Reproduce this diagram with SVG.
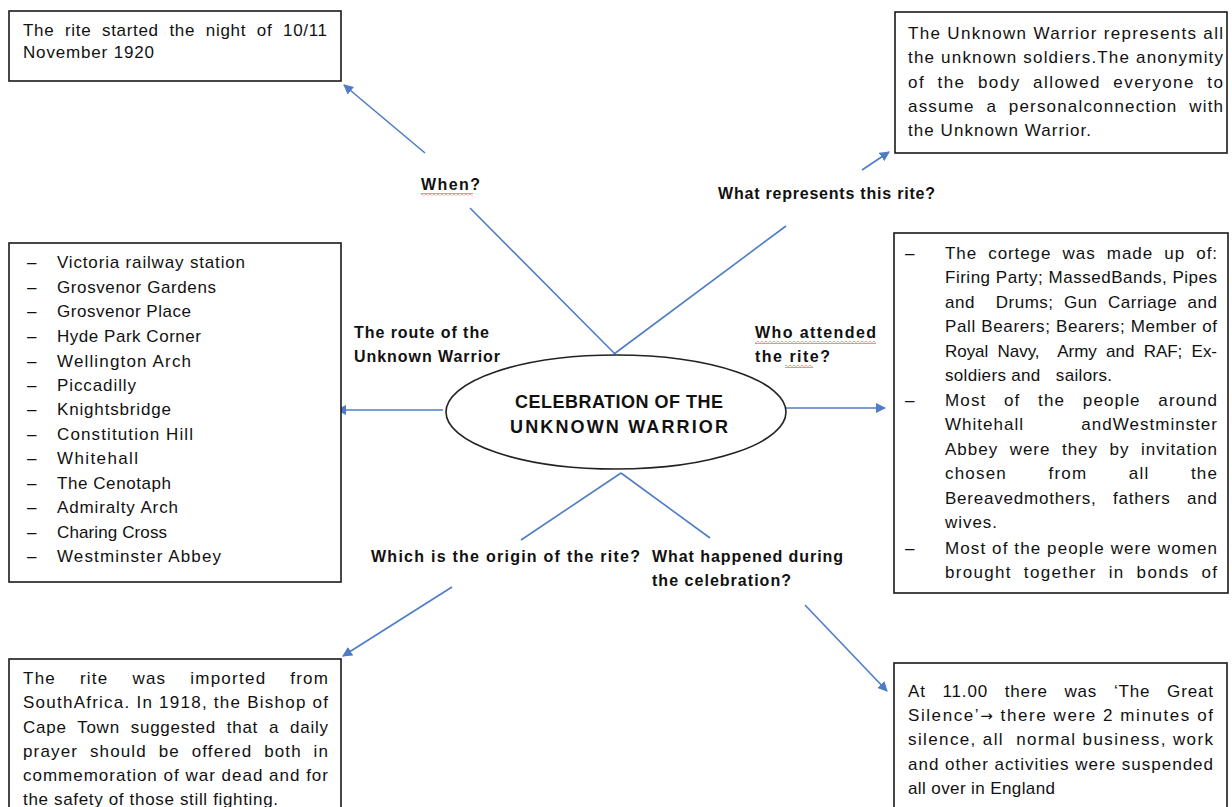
<svg xmlns="http://www.w3.org/2000/svg" width="1232" height="807" viewBox="0 0 1232 807">
<style>
.box{fill:#fff;stroke:#1a1a1a;stroke-width:1.6}
.t{font-family:"Liberation Sans",Arial,sans-serif;font-size:17px;fill:#111}
.b{font-family:"Liberation Sans",Arial,sans-serif;font-size:16px;font-weight:bold;fill:#111}
.c{font-family:"Liberation Sans",Arial,sans-serif;font-size:18px;font-weight:bold;fill:#111}
.con{stroke:#4f7cc6;stroke-width:1.6;fill:none}
.arr{font-family:"DejaVu Sans",sans-serif;font-size:15px}
</style>
<defs>
<marker id="ah" viewBox="0 0 10 10" refX="9" refY="5" markerWidth="10" markerHeight="10" markerUnits="userSpaceOnUse" orient="auto">
<path d="M0,0 L10,5 L0,10 z" fill="#4f7cc6"/>
</marker>
<pattern id="sq" x="0" y="0" width="4" height="3" patternUnits="userSpaceOnUse">
<path d="M0,0.5 L2,2.5 L4,0.5" stroke="#e02020" stroke-width="1" fill="none"/>
</pattern>
</defs>
<rect width="1232" height="807" fill="#fff"/>

<g id="connectors">
<line class="con" x1="470" y1="208" x2="615" y2="354"/>
<line class="con" x1="614" y1="354" x2="786" y2="226"/>
<line class="con" x1="621" y1="473" x2="521" y2="540"/>
<line class="con" x1="621" y1="473" x2="710" y2="538"/>
<line class="con" x1="425" y1="153" x2="344" y2="85" marker-end="url(#ah)"/>
<line class="con" x1="862" y1="170" x2="889" y2="152" marker-end="url(#ah)"/>
<line class="con" x1="443" y1="410" x2="337" y2="410" marker-end="url(#ah)"/>
<line class="con" x1="786" y1="408" x2="885" y2="408" marker-end="url(#ah)"/>
<line class="con" x1="452" y1="587" x2="343" y2="656" marker-end="url(#ah)"/>
<line class="con" x1="805" y1="605" x2="887" y2="691" marker-end="url(#ah)"/>
</g>

<g id="center">
<ellipse cx="616" cy="412" rx="170" ry="57" fill="#fff" stroke="#222" stroke-width="1.6"/>
<text class="c" x="515" y="408" textLength="208">CELEBRATION OF THE</text>
<text class="c" x="510" y="433" textLength="218">UNKNOWN WARRIOR</text>
</g>

<g id="labels">
<text class="b" x="421" y="190" textLength="59">When?</text>
<rect x="421" y="193" width="52" height="3" fill="url(#sq)"/>
<text class="b" x="718" y="199" textLength="217">What represents this rite?</text>
<text class="b" x="354" y="338" textLength="135">The route of the</text>
<text class="b" x="354" y="362" textLength="146">Unknown Warrior</text>
<text class="b" x="755" y="338" textLength="121">Who attended</text>
<rect x="755" y="341" width="121" height="3" fill="url(#sq)"/>
<text class="b" x="755" y="362" textLength="75">the rite?</text>
<rect x="785" y="365" width="28" height="3" fill="url(#sq)"/>
<text class="b" x="371" y="562" textLength="269">Which is the origin of the rite?</text>
<text class="b" x="652" y="562" textLength="191">What happened during</text>
<text class="b" x="652" y="586" textLength="139">the celebration?</text>
</g>

<g id="box-when">
<rect class="box" x="9" y="11" width="332" height="70"/>
<text class="t" x="23" y="36" textLength="304" xml:space="preserve">The  rite  started  the  night  of  10/11</text>
<text class="t" x="23" y="58" textLength="131">November 1920</text>
</g>

<g id="box-represents">
<rect class="box" x="895" y="12" width="332" height="141"/>
<text class="t" x="908" y="39" textLength="315">The Unknown Warrior represents all</text>
<text class="t" x="908" y="63" textLength="315">the unknown soldiers.The anonymity</text>
<text class="t" x="908" y="88" textLength="315" xml:space="preserve">of  the  body  allowed  everyone  to</text>
<text class="t" x="908" y="112" textLength="315" xml:space="preserve">assume  a  personalconnection  with</text>
<text class="t" x="908" y="136" textLength="183">the Unknown Warrior.</text>
</g>

<g id="box-route">
<rect class="box" x="9" y="243" width="332" height="339"/>
<g class="t">
<text x="27" y="268">–</text><text x="57" y="268" textLength="188">Victoria railway station</text>
<text x="27" y="293">–</text><text x="57" y="293" textLength="159">Grosvenor Gardens</text>
<text x="27" y="317">–</text><text x="57" y="317" textLength="134">Grosvenor Place</text>
<text x="27" y="342">–</text><text x="57" y="342" textLength="144">Hyde Park Corner</text>
<text x="27" y="367">–</text><text x="57" y="367" textLength="134">Wellington Arch</text>
<text x="27" y="391">–</text><text x="57" y="391" textLength="79">Piccadilly</text>
<text x="27" y="415">–</text><text x="57" y="415" textLength="114">Knightsbridge</text>
<text x="27" y="440">–</text><text x="57" y="440" textLength="136">Constitution Hill</text>
<text x="27" y="464">–</text><text x="57" y="464" textLength="81">Whitehall</text>
<text x="27" y="489">–</text><text x="57" y="489" textLength="114">The Cenotaph</text>
<text x="27" y="513">–</text><text x="57" y="513" textLength="121">Admiralty Arch</text>
<text x="27" y="538">–</text><text x="57" y="538" textLength="110">Charing Cross</text>
<text x="27" y="562">–</text><text x="57" y="562" textLength="164">Westminster Abbey</text>
</g>
</g>

<g id="box-attended">
<rect class="box" x="894" y="233" width="334" height="360"/>
<g class="t">
<text x="905" y="259">–</text>
<text x="945" y="259" textLength="272" xml:space="preserve">The  cortege  was  made  up  of:</text>
<text x="945" y="283" textLength="272">Firing Party; MassedBands, Pipes</text>
<text x="945" y="308" textLength="272" xml:space="preserve">and    Drums;  Gun  Carriage  and</text>
<text x="945" y="332" textLength="272">Pall Bearers; Bearers; Member of</text>
<text x="945" y="357" textLength="272" xml:space="preserve">Royal  Navy,    Army  and  RAF;  Ex-</text>
<text x="945" y="381" textLength="167" xml:space="preserve">soldiers and   sailors.</text>
<text x="905" y="406">–</text>
<text x="945" y="406" textLength="272" xml:space="preserve">Most   of   the   people   around</text>
<text x="945" y="430" textLength="272" xml:space="preserve">Whitehall          andWestminster</text>
<text x="945" y="455" textLength="272" xml:space="preserve">Abbey  were  they  by  invitation</text>
<text x="945" y="479" textLength="272" xml:space="preserve">chosen       from       all       the</text>
<text x="945" y="504" textLength="272" xml:space="preserve">Bereavedmothers,   fathers   and</text>
<text x="945" y="528" textLength="52">wives.</text>
<text x="905" y="554">–</text>
<text x="945" y="554" textLength="272">Most of the people were women</text>
<text x="945" y="578" textLength="272" xml:space="preserve">brought  together  in  bonds  of</text>
</g>
</g>

<g id="box-origin">
<rect class="box" x="9" y="659" width="332" height="160"/>
<g class="t">
<text x="23" y="684" textLength="305" xml:space="preserve">The    rite    was    imported    from</text>
<text x="23" y="708" textLength="305">SouthAfrica. In 1918, the Bishop of</text>
<text x="23" y="733" textLength="305" xml:space="preserve">Cape  Town  suggested  that  a  daily</text>
<text x="23" y="757" textLength="305" xml:space="preserve">prayer  should  be  offered  both  in</text>
<text x="23" y="781" textLength="305">commemoration of war dead and for</text>
<text x="23" y="805" textLength="255">the safety of those still fighting.</text>
</g>
</g>

<g id="box-happened">
<rect class="box" x="894" y="663" width="333" height="160"/>
<g class="t">
<text x="908" y="697" textLength="305" xml:space="preserve">At   11.00   there   was   ‘The   Great</text>
<text x="908" y="721" textLength="305">Silence’<tspan class="arr">→</tspan> there were 2 minutes of</text>
<text x="908" y="745" textLength="305" xml:space="preserve">silence, all  normal business, work</text>
<text x="908" y="770" textLength="305">and other activities were suspended</text>
<text x="908" y="794" textLength="147">all over in England</text>
</g>
</g>
</svg>
